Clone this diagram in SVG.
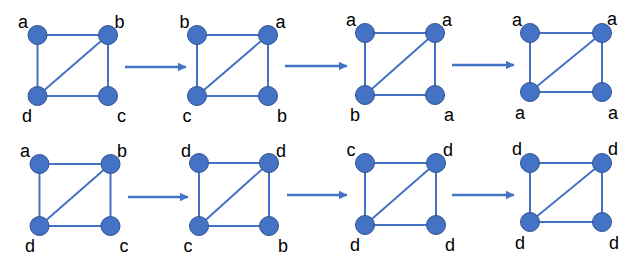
<svg xmlns="http://www.w3.org/2000/svg" width="637" height="263" viewBox="0 0 637 263">
<defs>
<style>
.e{stroke:#4472C4;stroke-width:2;fill:none}
.n{fill:#4472C4;stroke:#2F528F;stroke-width:1}
.t{font-family:"Liberation Sans","Open Sans",sans-serif;font-size:18px;fill:#000;text-anchor:middle}
.a{stroke:#4472C4;stroke-width:2.5;fill:none;marker-end:url(#ah)}
</style>
<marker id="ah" markerWidth="4" markerHeight="4" refX="3.2" refY="2" orient="auto" markerUnits="strokeWidth">
<path d="M0,0.3 L3.4,2 L0,3.7 Z" fill="#4472C4"/>
</marker>
</defs>
<rect width="637" height="263" fill="#fff"/>
<g id="connectors">
<g id="g1-edges"><path class="e" d="M37.5,35H108V96H37.5Z M37.5,96L108,35"/></g>
<g id="g2-edges"><path class="e" d="M197,35H268V96H197Z M197,96L268,35"/></g>
<g id="g3-edges"><path class="e" d="M365,33H435V95H365Z M365,95L435,33"/></g>
<g id="g4-edges"><path class="e" d="M530,33H602V92H530Z M530,92L602,33"/></g>
<g id="g5-edges"><path class="e" d="M39.5,164H110.5V226H39.5Z M39.5,226L110.5,164"/></g>
<g id="g6-edges"><path class="e" d="M199,163H269V226H199Z M199,226L269,163"/></g>
<g id="g7-edges"><path class="e" d="M365,163H436V225H365Z M365,225L436,163"/></g>
<g id="g8-edges"><path class="e" d="M530,163H602V222H530Z M530,222L602,163"/></g>
<line class="a" x1="125" y1="67" x2="186" y2="67"/>
<line class="a" x1="285" y1="66" x2="347" y2="66"/>
<line class="a" x1="452" y1="65" x2="514" y2="65"/>
<line class="a" x1="128" y1="197" x2="188" y2="197"/>
<line class="a" x1="287" y1="195" x2="347" y2="195"/>
<line class="a" x1="452" y1="195" x2="514" y2="195"/>
</g>
<g id="g1">
<circle class="n" cx="37.5" cy="35" r="9.5"/><circle class="n" cx="108" cy="35" r="9.5"/><circle class="n" cx="37.5" cy="96" r="9.5"/><circle class="n" cx="108" cy="96" r="9.5"/>
<text class="t" x="23" y="27.5">a</text><text class="t" x="119.5" y="27.5">b</text><text class="t" x="27" y="121.5">d</text><text class="t" x="121.5" y="121.5">c</text>
</g>
<g id="g2">
<circle class="n" cx="197" cy="35" r="9.5"/><circle class="n" cx="268" cy="35" r="9.5"/><circle class="n" cx="197" cy="96" r="9.5"/><circle class="n" cx="268" cy="96" r="9.5"/>
<text class="t" x="184.5" y="27.5">b</text><text class="t" x="280.5" y="27.5">a</text><text class="t" x="187" y="121.5">c</text><text class="t" x="282" y="121.5">b</text>
</g>
<g id="g3">
<circle class="n" cx="365" cy="33" r="9.5"/><circle class="n" cx="435" cy="33" r="9.5"/><circle class="n" cx="365" cy="95" r="9.5"/><circle class="n" cx="435" cy="95" r="9.5"/>
<text class="t" x="351" y="25.5">a</text><text class="t" x="447" y="25.5">a</text><text class="t" x="355" y="120.5">b</text><text class="t" x="449" y="120.5">a</text>
</g>
<g id="g4">
<circle class="n" cx="530" cy="33" r="9.5"/><circle class="n" cx="602" cy="33" r="9.5"/><circle class="n" cx="530" cy="92" r="9.5"/><circle class="n" cx="602" cy="92" r="9.5"/>
<text class="t" x="517" y="25.5">a</text><text class="t" x="612" y="24.5">a</text><text class="t" x="520" y="118.5">a</text><text class="t" x="613" y="118.5">a</text>
</g>
<g id="g5">
<circle class="n" cx="39.5" cy="164" r="9.5"/><circle class="n" cx="110.5" cy="164" r="9.5"/><circle class="n" cx="39.5" cy="226" r="9.5"/><circle class="n" cx="110.5" cy="226" r="9.5"/>
<text class="t" x="25" y="156.5">a</text><text class="t" x="122" y="156.5">b</text><text class="t" x="30" y="251.5">d</text><text class="t" x="124" y="251.5">c</text>
</g>
<g id="g6">
<circle class="n" cx="199" cy="163" r="9.5"/><circle class="n" cx="269" cy="163" r="9.5"/><circle class="n" cx="199" cy="226" r="9.5"/><circle class="n" cx="269" cy="226" r="9.5"/>
<text class="t" x="186" y="156.5">d</text><text class="t" x="281" y="156.5">d</text><text class="t" x="188" y="251.5">c</text><text class="t" x="283" y="251.5">b</text>
</g>
<g id="g7">
<circle class="n" cx="365" cy="163" r="9.5"/><circle class="n" cx="436" cy="163" r="9.5"/><circle class="n" cx="365" cy="225" r="9.5"/><circle class="n" cx="436" cy="225" r="9.5"/>
<text class="t" x="351" y="155.5">c</text><text class="t" x="448" y="155.5">d</text><text class="t" x="355" y="250.5">d</text><text class="t" x="450" y="250.5">d</text>
</g>
<g id="g8">
<circle class="n" cx="530" cy="163" r="9.5"/><circle class="n" cx="602" cy="163" r="9.5"/><circle class="n" cx="530" cy="222" r="9.5"/><circle class="n" cx="602" cy="222" r="9.5"/>
<text class="t" x="517" y="154.5">d</text><text class="t" x="613" y="154.5">d</text><text class="t" x="520" y="248.5">d</text><text class="t" x="614" y="248.5">d</text>
</g>
</svg>
